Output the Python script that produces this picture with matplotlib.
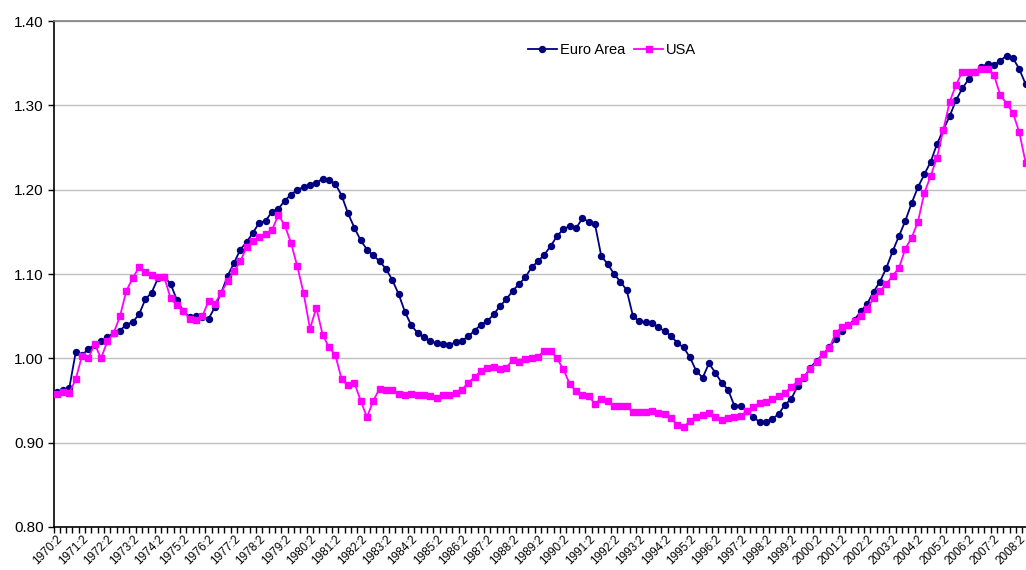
import numpy as np
import matplotlib
matplotlib.use("Agg")
import matplotlib.pyplot as plt
import matplotlib.ticker as ticker

plt.rcParams['font.family'] = ['Liberation Sans', 'DejaVu Sans']

# quarterly observations, 1970:2 .. 2008:3
periods = [f"{1970 + (i + 1) // 4}:{(i + 1) % 4 + 1}" for i in range(154)]

euro_area = [
    0.960, 0.963, 0.965, 1.007, 1.004, 1.011, 1.016, 1.020, 1.025, 1.030,
    1.033, 1.040, 1.043, 1.052, 1.070, 1.078, 1.095, 1.097, 1.088, 1.069,
    1.056, 1.049, 1.050, 1.049, 1.047, 1.061, 1.078, 1.098, 1.113, 1.129,
    1.138, 1.149, 1.161, 1.163, 1.174, 1.177, 1.187, 1.194, 1.200, 1.203,
    1.206, 1.208, 1.213, 1.211, 1.207, 1.193, 1.172, 1.155, 1.140, 1.129,
    1.122, 1.115, 1.106, 1.093, 1.076, 1.055, 1.039, 1.030, 1.025, 1.020,
    1.018, 1.017, 1.016, 1.019, 1.021, 1.026, 1.033, 1.040, 1.044, 1.052,
    1.062, 1.070, 1.080, 1.088, 1.096, 1.108, 1.115, 1.123, 1.133, 1.145,
    1.153, 1.157, 1.154, 1.166, 1.162, 1.159, 1.121, 1.112, 1.100, 1.091,
    1.081, 1.050, 1.044, 1.043, 1.042, 1.037, 1.032, 1.027, 1.018, 1.013,
    1.001, 0.985, 0.977, 0.994, 0.983, 0.971, 0.963, 0.944, 0.944, 0.937,
    0.931, 0.924, 0.925, 0.928, 0.934, 0.945, 0.952, 0.967, 0.977, 0.989,
    0.997, 1.005, 1.013, 1.023, 1.033, 1.039, 1.046, 1.056, 1.065, 1.079,
    1.091, 1.107, 1.127, 1.145, 1.163, 1.184, 1.203, 1.218, 1.233, 1.254,
    1.271, 1.287, 1.306, 1.320, 1.331, 1.339, 1.346, 1.349, 1.348, 1.353,
    1.359, 1.356, 1.343, 1.325,
]

usa = [
    0.958, 0.960, 0.959, 0.975, 1.003, 1.000, 1.017, 1.000, 1.020, 1.030,
    1.050, 1.080, 1.095, 1.108, 1.102, 1.099, 1.096, 1.096, 1.071, 1.063,
    1.056, 1.047, 1.046, 1.050, 1.068, 1.065, 1.078, 1.092, 1.103, 1.115,
    1.132, 1.139, 1.144, 1.147, 1.152, 1.170, 1.158, 1.137, 1.109, 1.077,
    1.035, 1.060, 1.028, 1.013, 1.004, 0.975, 0.968, 0.971, 0.950, 0.930,
    0.950, 0.964, 0.963, 0.962, 0.958, 0.957, 0.958, 0.956, 0.957, 0.955,
    0.953, 0.956, 0.956, 0.959, 0.963, 0.971, 0.978, 0.985, 0.988, 0.990,
    0.987, 0.989, 0.998, 0.996, 0.999, 1.000, 1.002, 1.009, 1.009, 1.000,
    0.987, 0.970, 0.961, 0.957, 0.955, 0.946, 0.952, 0.950, 0.943, 0.944,
    0.943, 0.936, 0.936, 0.936, 0.938, 0.935, 0.934, 0.929, 0.921, 0.918,
    0.926, 0.931, 0.933, 0.935, 0.931, 0.927, 0.929, 0.930, 0.932, 0.937,
    0.942, 0.947, 0.948, 0.952, 0.955, 0.959, 0.966, 0.973, 0.978, 0.987,
    0.996, 1.005, 1.012, 1.030, 1.037, 1.040, 1.044, 1.050, 1.059, 1.072,
    1.080, 1.088, 1.098, 1.107, 1.130, 1.143, 1.162, 1.196, 1.216, 1.238,
    1.271, 1.304, 1.324, 1.340, 1.340, 1.339, 1.343, 1.343, 1.336, 1.312,
    1.302, 1.291, 1.268, 1.232,
]

y_ticks = [0.80, 0.90, 1.00, 1.10, 1.20, 1.30, 1.40]

fig = plt.figure(figsize=(10.26, 5.70), dpi=100)
ax = fig.add_axes([53.5 / 1026, 43 / 570, 975.3 / 1026, 506 / 570])

x = np.arange(len(periods))
ax.plot(x, euro_area, color='#000080', lw=1.3, marker='o', ms=4.3,
        label='Euro Area', zorder=3)
ax.plot(x, usa, color='#FF00FF', lw=1.3, marker='s', ms=4.7,
        label='USA', zorder=3)

ax.set_xlim(-0.5, len(periods) - 0.5)
ax.set_ylim(0.8, 1.4)
ax.set_yticks(y_ticks)
ax.yaxis.set_major_formatter(ticker.FormatStrFormatter('%.2f'))
ax.grid(axis='y', color='#c0c0c0', lw=1.0)
ax.set_axisbelow(True)

# tick marks between categories, labels every fourth category
ax.set_xticks(np.arange(-0.5, len(periods), 1.0))
ax.set_xticklabels([])
ax.set_xticks(x[::4], minor=True)
ax.set_xticklabels(periods[::4], minor=True, rotation=45, ha='right',
                   rotation_mode='anchor', fontsize=8.5)
ax.tick_params(axis='x', which='major', length=4, width=1, direction='out')
ax.tick_params(axis='x', which='minor', length=0, pad=4.5)
ax.tick_params(axis='y', length=4, width=1, labelsize=11, pad=3)

for s in ['left', 'bottom']:
    ax.spines[s].set_color('black')
    ax.spines[s].set_linewidth(1.2)
ax.spines['top'].set_color('#808080')
ax.spines['top'].set_linewidth(1.2)
ax.spines['right'].set_visible(False)

ax.legend(loc='center', bbox_to_anchor=(612 / 1026, 1 - 50 / 570),
          bbox_transform=fig.transFigure, ncol=2, frameon=False,
          fontsize=10.5, handlelength=2.0, handletextpad=0.2,
          columnspacing=0.6)

fig.savefig('out.png', dpi=100)
